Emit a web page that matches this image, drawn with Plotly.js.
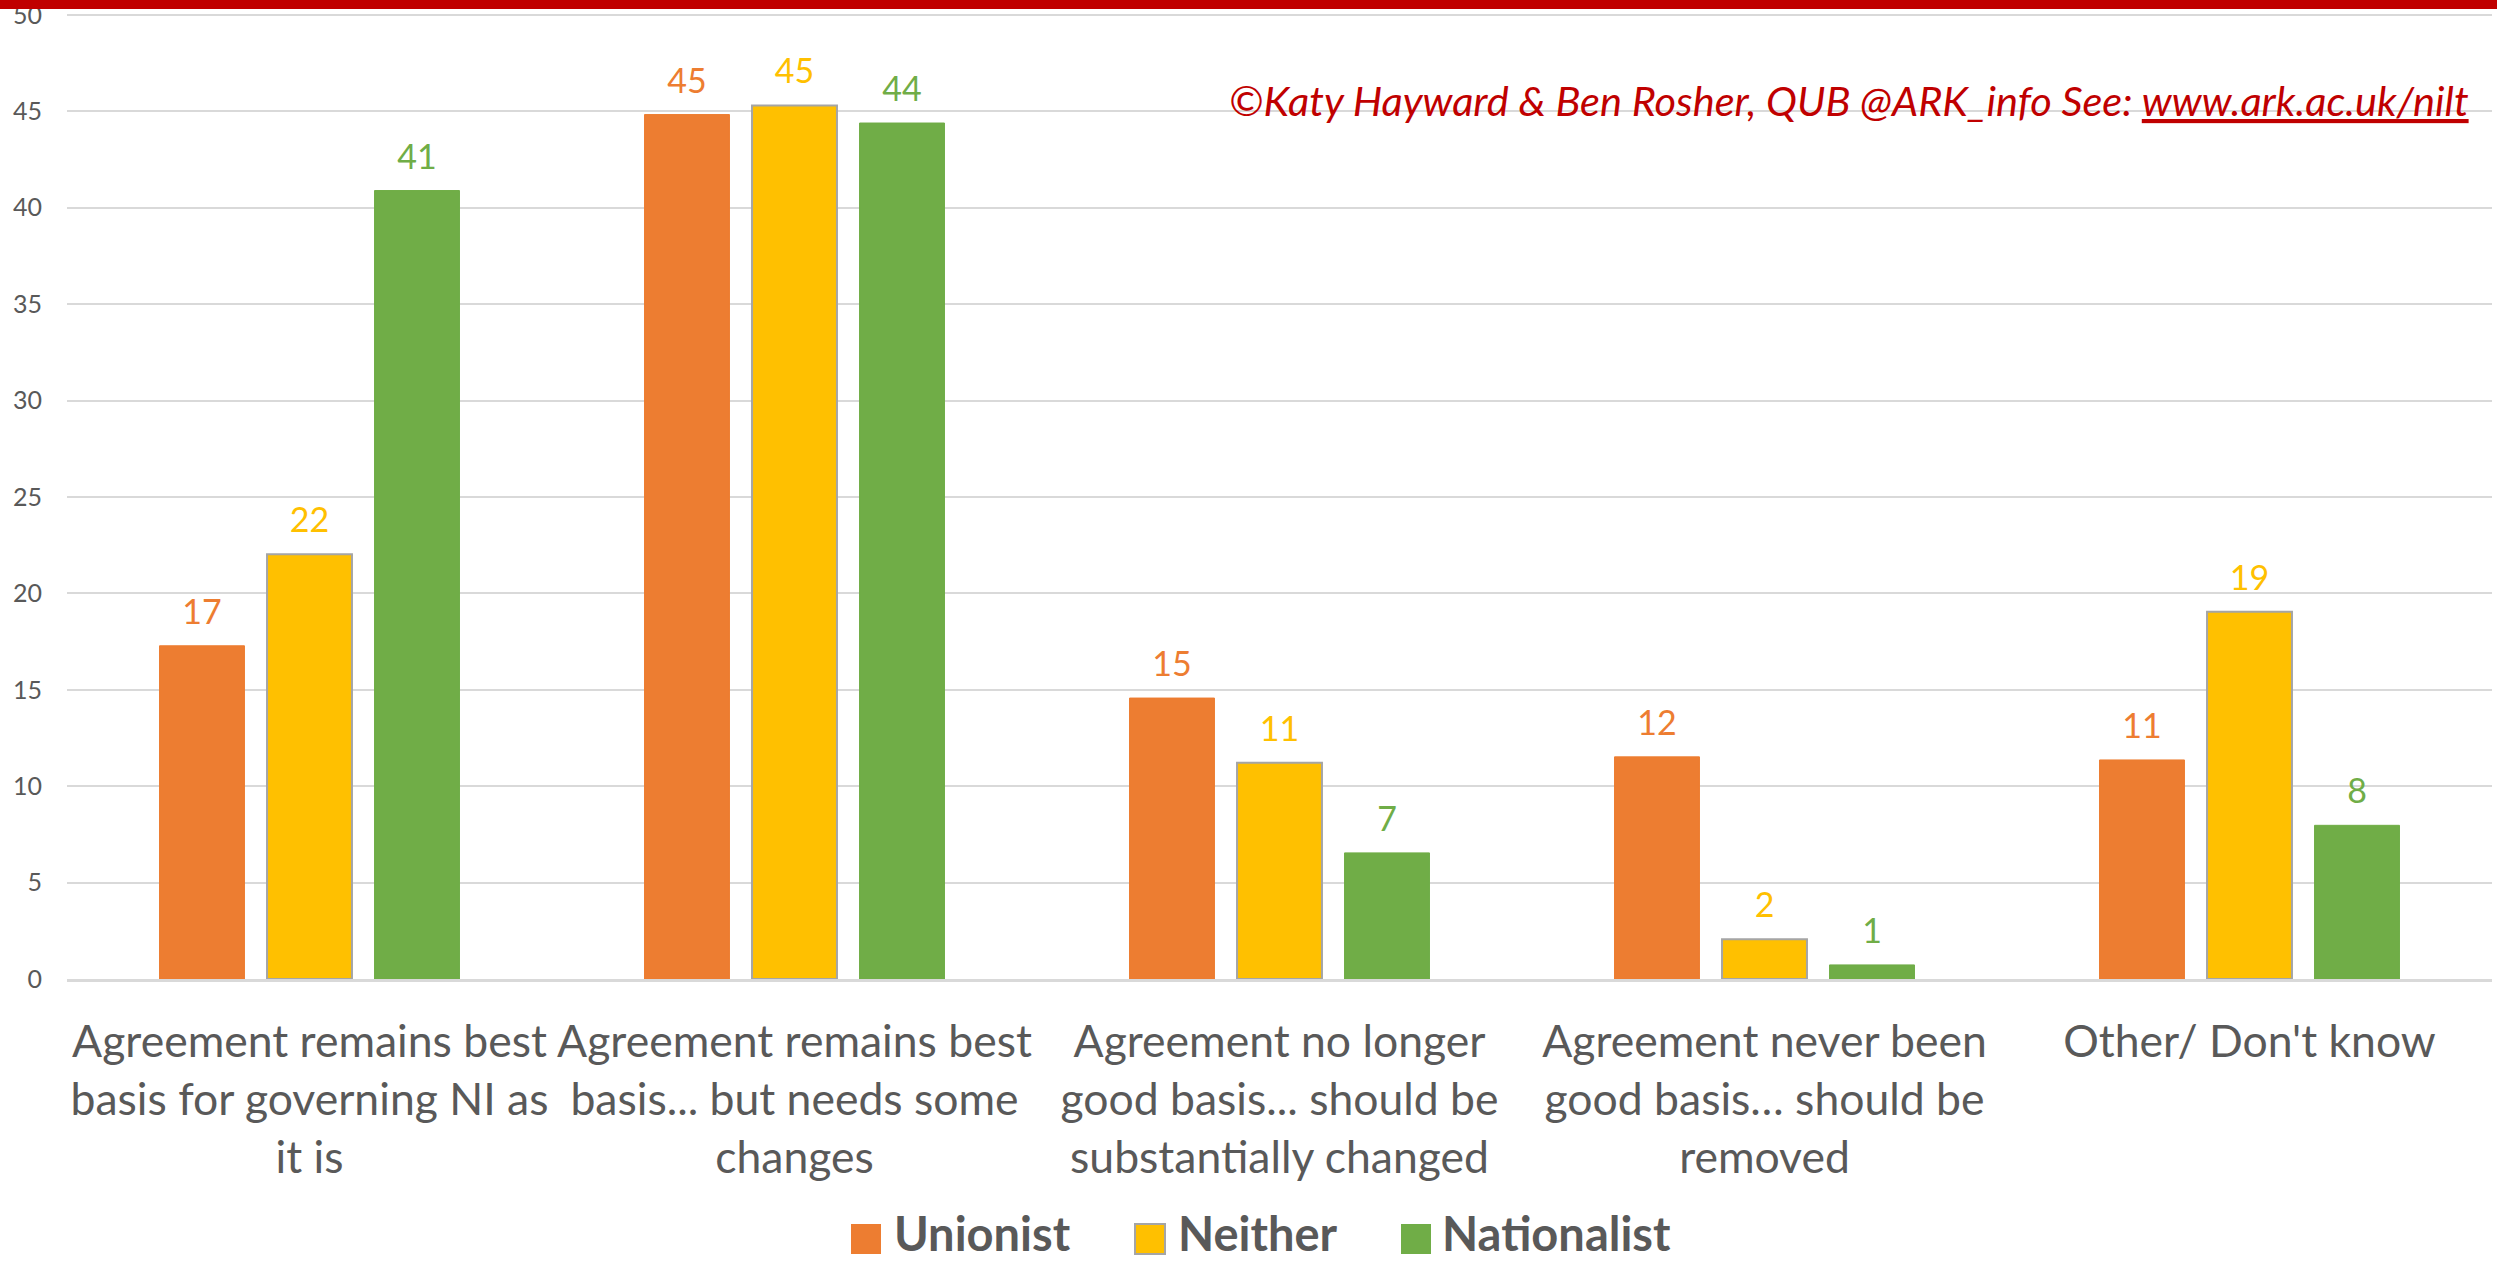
<!DOCTYPE html>
<html>
<head>
<meta charset="utf-8">
<script src="https://cdn.plot.ly/plotly-3.0.1.min.js"></script>
<style>html,body{margin:0;padding:0;background:#fff;}#chart{width:2497px;height:1264px;}</style>
</head>
<body>
<div id="chart"></div>
<script>
const categories = [
  "Agreement remains best<br>basis for governing NI as<br>it is",
  "Agreement remains best<br>basis... but needs some<br>changes",
  "Agreement no longer<br>good basis... should be<br>substantially changed",
  "Agreement never been<br>good basis\u2026 should be<br>removed",
  "Other/ Don't know"
];
const seriesNames = ["Unionist", "Neither", "Nationalist"];
const unionist = [17.28, 44.83, 14.57, 11.52, 11.36];
const neither = [22.03, 45.30, 11.22, 2.06, 19.04];
const nationalist = [40.89, 44.39, 6.54, 0.73, 7.97];
const yTicks = [0, 5, 10, 15, 20, 25, 30, 35, 40, 45, 50];
const credit = "\u00a9Katy Hayward &amp; Ben Rosher, QUB @ARK_info See: ";
const creditLink = "www.ark.ac.uk/nilt";

const seriesValues = [unionist, neither, nationalist];
const colors = ["#ED7D31", "#FFC000", "#70AD47"];
const outlines = ["#ED7D31", "#A5A5A5", "#70AD47"];
const FONT = "Lato, 'Open Sans', sans-serif";

// plot-area geometry (px) for paper conversions of decorations
const W = 2497, H = 1264, ML = 67, MR = 5, MT = 11, MB = 285;
const PW = W - ML - MR, PH = H - MT - MB;
const px2x = p => (p - ML) / PW;
const py2y = p => (H - MB - p) / PH;

const traces = [];
seriesNames.forEach((name, i) => {
  traces.push({
    type: "bar", name: name, x: categories, y: seriesValues[i],
    marker: { color: colors[i], line: { color: outlines[i], width: i === 1 ? 2 : 1 } },
    hoverinfo: "y+name", showlegend: false
  });
});
seriesNames.forEach((name, i) => {
  traces.push({
    type: "scatter", mode: "markers+text", name: name + " label",
    x: categories, y: seriesValues[i],
    marker: { size: 20, opacity: 0, color: colors[i] },
    texttemplate: "%{y:.0f}", textposition: "top center",
    textfont: { family: FONT, size: 34, color: colors[i] },
    cliponaxis: false, hoverinfo: "skip", showlegend: false
  });
});

const legendSquares = [851, 1135, 1401];
const legendText = [892, 1176, 1440];
const shapes = [
  { type: "rect", xref: "paper", yref: "paper", x0: px2x(-5), x1: px2x(W + 5), y0: py2y(9), y1: py2y(-5),
    fillcolor: "#C00000", line: { width: 0 }, layer: "above" }
];
const annotations = [
  { xref: "paper", yref: "paper", x: px2x(2471), y: py2y(100), xanchor: "right", yanchor: "middle",
    showarrow: false, text: "<i>" + credit + "<span style='text-decoration:underline'>" + creditLink + "</span></i>",
    font: { family: FONT, size: 41.5, color: "#C00000" } }
];
seriesNames.forEach((name, i) => {
  shapes.push({ type: "rect", xref: "paper", yref: "paper",
    x0: px2x(legendSquares[i]), x1: px2x(legendSquares[i] + 30),
    y0: py2y(1254), y1: py2y(1224), fillcolor: colors[i],
    line: { color: outlines[i], width: i === 1 ? 2 : 0 } });
  annotations.push({ xref: "paper", yref: "paper", x: px2x(legendText[i]), y: py2y(1263),
    xanchor: "left", yanchor: "bottom", showarrow: false, text: "<b>" + name + "</b>",
    font: { family: FONT, size: 47, color: "#595959" } });
});

const layout = {
  width: W, height: H,
  margin: { l: ML, r: MR, t: MT, b: MB, pad: 0 },
  paper_bgcolor: "#ffffff", plot_bgcolor: "#ffffff",
  barmode: "group", bargap: 0.335, bargroupgap: 0.21,
  scattermode: "group", scattergap: 0.335,
  showlegend: false,
  font: { family: FONT, color: "#595959" },
  xaxis: {
    type: "category", showgrid: false, showline: true, linecolor: "#D9D9D9", linewidth: 3,
    ticks: "", tickfont: { family: FONT, size: 44.5, color: "#595959" }, ticklabelstandoff: 22,
    automargin: false, fixedrange: true
  },
  yaxis: {
    range: [0, 50.2], tickvals: yTicks, ticktext: yTicks.map(String),
    showgrid: true, gridcolor: "#D9D9D9", gridwidth: 2, zeroline: false, showline: false,
    ticks: "", tickfont: { family: FONT, size: 25, color: "#595959" }, ticklabelstandoff: 24,
    ticklabeloverflow: "allow",
    automargin: false, fixedrange: true
  },
  shapes: shapes,
  annotations: annotations
};

Plotly.newPlot("chart", traces, layout, { displayModeBar: false, staticPlot: true });
</script>
</body>
</html>
